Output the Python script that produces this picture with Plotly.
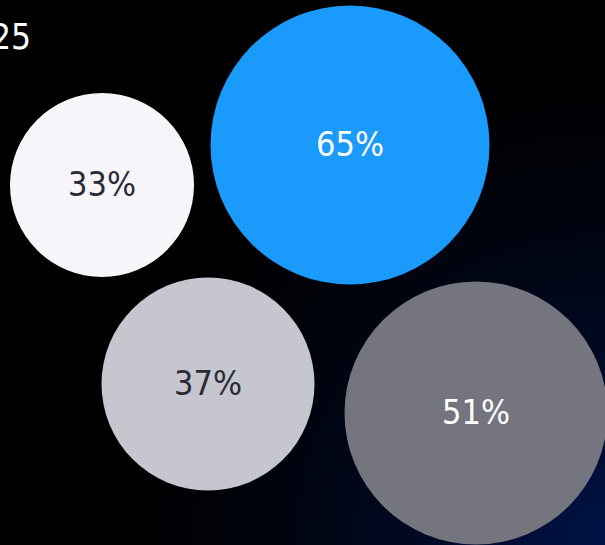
import numpy as np
import plotly.graph_objects as go

# ---- data ----
labels = ["33%", "65%", "37%", "51%"]
values = [33, 65, 37, 51]
bubble_x = [102, 350, 208, 476]
bubble_y = [185, 145, 384, 413]
bubble_d = [184, 279, 213, 263]
colors = ["#F5F5FA", "#1A9AFA", "#C6C6CE", "#75757F"]
text_colors = ["#2A2B36", "#FFFFFF", "#2A2B36", "#FFFFFF"]
title_text = "2025"

W, H = 605, 545
FONT = "DejaVu Sans Condensed, DejaVu Sans, sans-serif"

# background radial glow (decoration)
gx = np.linspace(0, W, 62)
gy = np.linspace(0, H, 56)
GX, GY = np.meshgrid(gx, gy)
dist = np.sqrt((GX - W) ** 2 + (GY - H) ** 2)
glow = np.clip(1 - dist / 520.0, 0, 1) ** 1.6

fig = go.Figure()
fig.add_trace(go.Heatmap(
    x=gx, y=gy, z=glow, zmin=0, zmax=1, zsmooth="best",
    colorscale=[[0, "#000000"], [1, "#001348"]],
    showscale=False, hoverinfo="skip",
))
fig.add_trace(go.Scatter(
    x=bubble_x, y=bubble_y, mode="markers",
    marker=dict(size=bubble_d, sizemode="diameter", sizeref=1,
                color=colors, opacity=1, line=dict(width=0)),
    customdata=values, hovertemplate="%{customdata}%<extra></extra>",
    cliponaxis=False, showlegend=False,
))
fig.add_trace(go.Scatter(
    x=bubble_x, y=[v + 2 for v in bubble_y], mode="text",
    text=labels, textposition="middle center",
    textfont=dict(family=FONT, size=34, color=text_colors),
    hoverinfo="skip", cliponaxis=False, showlegend=False,
))
fig.add_annotation(
    x=33, y=37, xref="x", yref="y", text=title_text, showarrow=False,
    xanchor="right", yanchor="middle",
    font=dict(family=FONT, size=35, color="#FFFFFF"),
)
fig.update_layout(
    width=W, height=H, margin=dict(l=0, r=0, t=0, b=0),
    paper_bgcolor="#000000", plot_bgcolor="#000000",
    xaxis=dict(range=[0, W], visible=False, fixedrange=True),
    yaxis=dict(range=[H, 0], visible=False, fixedrange=True),
    showlegend=False,
)
fig.write_html("out.html")
